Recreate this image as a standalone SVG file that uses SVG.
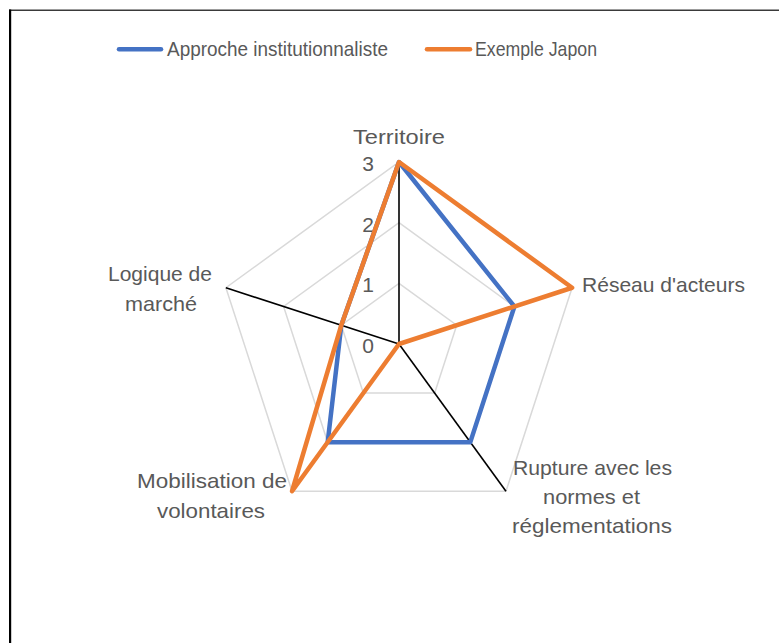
<svg xmlns="http://www.w3.org/2000/svg" width="779" height="643" viewBox="0 0 779 643">
<style>
.t{font-family:"Liberation Sans",Arial,sans-serif;fill:#595959;}
.lab{font-size:21px;}
.leg{font-size:21px;}
.tick{font-size:21px;text-anchor:end;}
.grid{fill:none;stroke:#D9D9D9;stroke-width:1.5;}
.axis{stroke:#000;stroke-width:1.6;}
.ser{fill:none;stroke-width:4.5;stroke-linejoin:round;stroke-linecap:round;}
</style>
<rect x="0" y="0" width="779" height="643" fill="#fff"/>
<rect x="9" y="9.5" width="770" height="1.5" fill="#3a3a3a"/>
<rect x="9" y="9.5" width="2.2" height="634" fill="#000"/>
<g id="legend">
<line x1="119" y1="49.3" x2="161" y2="49.3" stroke="#4472C4" stroke-width="4.5" stroke-linecap="round"/>
<text class="t leg" x="167" y="56" textLength="221" lengthAdjust="spacingAndGlyphs">Approche institutionnaliste</text>
<line x1="427" y1="49.3" x2="470" y2="49.3" stroke="#ED7D31" stroke-width="4.5" stroke-linecap="round"/>
<text class="t leg" x="475" y="56" textLength="122" lengthAdjust="spacingAndGlyphs">Exemple Japon</text>
</g>
<g id="grid">
<polygon class="grid" points="399,283.33 456.70,325.25 434.66,393.08 363.34,393.08 341.30,325.25"/>
<polygon class="grid" points="399,222.67 514.40,306.51 470.32,442.16 327.68,442.16 283.60,306.51"/>
<polygon class="grid" points="399,162 572.10,287.76 505.98,491.24 292.02,491.24 225.90,287.76"/>
</g>
<g id="connectors">
<line class="axis" x1="399" y1="344" x2="399" y2="162"/>
<line class="axis" x1="399" y1="344" x2="572.10" y2="287.76"/>
<line class="axis" x1="399" y1="344" x2="505.98" y2="491.24"/>
<line class="axis" x1="399" y1="344" x2="292.02" y2="491.24"/>
<line class="axis" x1="399" y1="344" x2="225.90" y2="287.76"/>
</g>
<g id="ticks">
<text class="t tick" x="374" y="170.5">3</text>
<text class="t tick" x="374" y="231.5">2</text>
<text class="t tick" x="374" y="292">1</text>
<text class="t tick" x="374" y="353">0</text>
</g>
<g id="series-approche">
<polygon class="ser" stroke="#4472C4" points="399,162 514.40,306.51 470.32,442.16 327.68,442.16 341.30,325.25"/>
</g>
<g id="series-japon">
<polygon class="ser" stroke="#ED7D31" points="399,162 572.10,287.76 399,344 292.02,491.24 341.30,325.25"/>
</g>
<g id="node-territoire">
<text class="t lab" x="353" y="144" textLength="92" lengthAdjust="spacingAndGlyphs">Territoire</text>
</g>
<g id="node-reseau">
<text class="t lab" x="582" y="292" textLength="163" lengthAdjust="spacingAndGlyphs">Réseau d'acteurs</text>
</g>
<g id="node-rupture">
<text class="t lab" x="513" y="474.5" textLength="159" lengthAdjust="spacingAndGlyphs">Rupture avec les</text>
<text class="t lab" x="543" y="504" textLength="97" lengthAdjust="spacingAndGlyphs">normes et</text>
<text class="t lab" x="512" y="533" textLength="160" lengthAdjust="spacingAndGlyphs">réglementations</text>
</g>
<g id="node-mobilisation">
<text class="t lab" x="137" y="488" textLength="150" lengthAdjust="spacingAndGlyphs">Mobilisation de</text>
<text class="t lab" x="157" y="517.5" textLength="108" lengthAdjust="spacingAndGlyphs">volontaires</text>
</g>
<g id="node-logique">
<text class="t lab" x="108" y="281" textLength="104" lengthAdjust="spacingAndGlyphs">Logique de</text>
<text class="t lab" x="125" y="311" textLength="72" lengthAdjust="spacingAndGlyphs">marché</text>
</g>
</svg>
